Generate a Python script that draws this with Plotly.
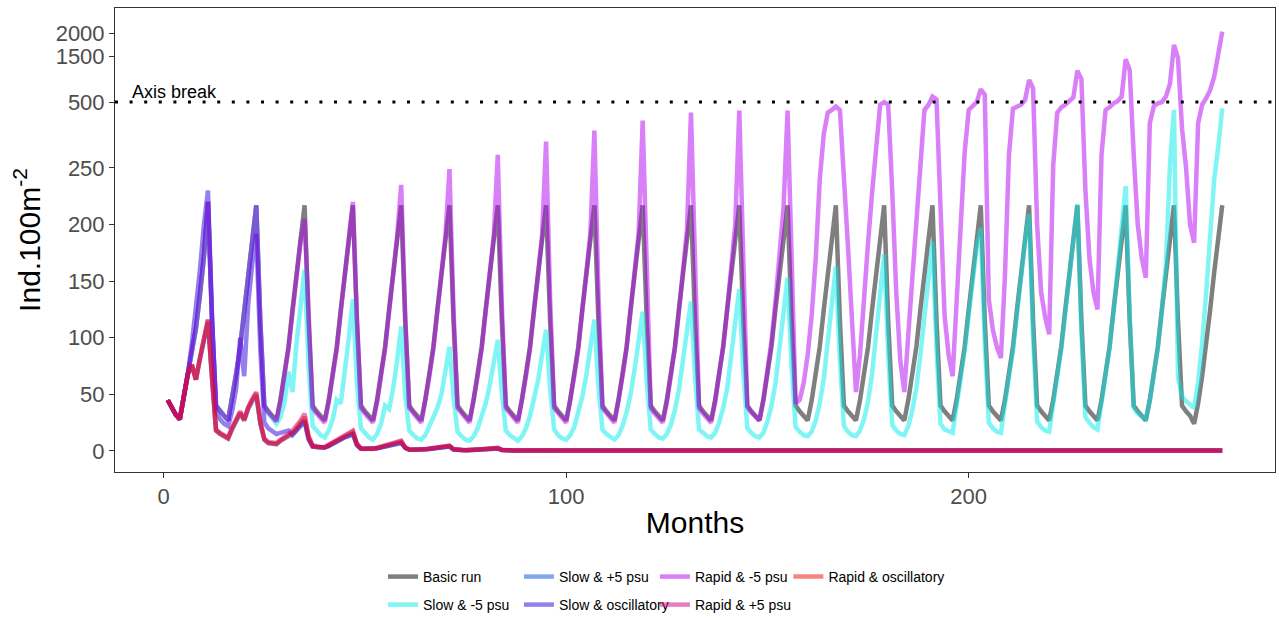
import plotly.graph_objects as go

months = list(range(1, 264))

basic_run = [
    45, 38, 32, 28, 48, 68, 88, 108, 138, 172, 220,
    115, 40, 35, 31, 27, 45, 68, 92, 125, 158, 190, 217,
    115, 40, 35, 31, 27, 45, 68, 92, 125, 158, 190, 217,
    115, 40, 35, 31, 27, 45, 68, 92, 125, 158, 190, 217,
    115, 40, 35, 31, 27, 45, 68, 92, 125, 158, 190, 217,
    115, 40, 35, 31, 27, 45, 68, 92, 125, 158, 190, 217,
    115, 40, 35, 31, 27, 45, 68, 92, 125, 158, 190, 217,
    115, 40, 35, 31, 27, 45, 68, 92, 125, 158, 190, 217,
    115, 40, 35, 31, 27, 45, 68, 92, 125, 158, 190, 217,
    115, 40, 35, 31, 27, 45, 68, 92, 125, 158, 190, 217,
    115, 40, 35, 31, 27, 45, 68, 92, 125, 158, 190, 217,
    115, 40, 35, 31, 27, 45, 68, 92, 125, 158, 190, 217,
    115, 40, 35, 31, 27, 45, 68, 92, 125, 158, 190, 217,
    115, 40, 35, 31, 27, 45, 68, 92, 125, 158, 190, 217,
    115, 40, 35, 31, 27, 45, 68, 92, 125, 158, 190, 217,
    115, 40, 35, 31, 27, 45, 68, 92, 125, 158, 190, 217,
    115, 40, 35, 31, 27, 45, 68, 92, 125, 158, 190, 217,
    115, 40, 35, 31, 27, 45, 68, 92, 125, 158, 190, 217,
    115, 40, 35, 31, 27, 45, 68, 92, 125, 158, 190, 217,
    115, 40, 35, 31, 27, 45, 68, 92, 125, 158, 190, 217,
    115, 40, 35, 31, 27, 45, 68, 92, 125, 158, 190, 217,
    115, 40, 35, 31, 24, 42, 66, 92, 125, 158, 190, 217,
]

slow_minus5 = [
    45, 38, 32, 28, 48, 68, 88, 108, 138, 172, 220,
    115, 40, 35, 31, 27, 45, 68, 92, 125, 158, 190, 217,
    115, 40, 33, 28, 24, 30, 42, 70, 52, 95, 130, 160,
    75, 22, 18, 14, 12, 18, 28, 45, 42, 70, 100, 134,
    60, 20, 16, 12, 10, 15, 24, 40, 37, 55, 80, 110,
    50, 18, 14, 11, 10, 14, 22, 30, 38, 50, 70, 92,
    48, 17, 13, 10, 9, 13, 20, 30, 42, 58, 78, 98,
    52, 18, 14, 11, 9, 13, 20, 31, 45, 62, 85, 107,
    55, 19, 14, 11, 10, 14, 21, 33, 48, 67, 92, 116,
    58, 19, 15, 12, 10, 14, 22, 34, 50, 72, 98, 123,
    62, 19, 15, 12, 11, 15, 23, 36, 54, 78, 105, 132,
    66, 19, 16, 13, 12, 16, 25, 38, 55, 85, 115, 143,
    70, 20, 16, 13, 12, 16, 26, 40, 60, 90, 122, 153,
    75, 21, 17, 14, 13, 17, 27, 42, 64, 96, 130, 163,
    80, 22, 17, 14, 13, 18, 28, 44, 68, 102, 138, 174,
    85, 23, 18, 15, 14, 22, 36, 56, 85, 120, 155, 185,
    90, 24, 19, 17, 16, 40, 64, 88, 120, 152, 180, 197,
    95, 25, 20, 17, 16, 41, 65, 89, 121, 154, 185, 209,
    100, 26, 21, 18, 17, 42, 65, 90, 122, 155, 188, 218,
    105, 30, 25, 21, 19, 42, 66, 91, 124, 158, 195, 234,
    120, 38, 33, 30, 28, 45, 68, 92, 125, 165, 260, 470,
    65, 48, 44, 41, 38, 60, 95, 140, 190, 240, 330, 476,
]

slow_plus5 = [
    45, 38, 32, 28, 48, 68, 76, 63, 81, 99, 114,
    64, 18, 15, 13, 11, 19, 27, 33, 27, 37, 44, 49,
    24, 10, 7, 6, 6, 9, 11, 13, 15, 19, 23, 27,
    11, 4, 3.5, 3, 3, 4.5, 6.5, 8.5, 10, 12, 14, 15,
    5.5, 2, 2, 1.8, 1.8, 2.4, 3.2, 4.2, 5, 6, 7, 7.5,
    2.8, 1.2, 1.1, 1, 1, 1.4, 1.8, 2.3, 2.8, 3.2, 3.6, 4,
    1.4, 0.8, 0.8, 0.7, 0.7, 0.9, 1.1, 1.4, 1.6, 1.8, 2, 2.2,
    0.9, 0.5, 0.5, 0.5, 0.5, 0.6, 0.7, 0.8, 0.9, 1.0, 1.0, 1.1,
    0.6, 0.4, 0.4, 0.4, 0.4, 0.4, 0.5, 0.5, 0.6, 0.6, 0.7, 0.7,
    0.5, 0.4, 0.4, 0.4, 0.4, 0.4, 0.4, 0.5, 0.5, 0.5, 0.5, 0.6,
    0.5, 0.4, 0.4, 0.4, 0.4, 0.4, 0.4, 0.4, 0.5, 0.5, 0.5, 0.5,
    0.5, 0.4, 0.4, 0.4, 0.4, 0.4, 0.4, 0.4, 0.5, 0.5, 0.5, 0.5,
    0.5, 0.4, 0.4, 0.4, 0.4, 0.4, 0.4, 0.4, 0.5, 0.5, 0.5, 0.5,
    0.5, 0.4, 0.4, 0.4, 0.4, 0.4, 0.4, 0.4, 0.5, 0.5, 0.5, 0.5,
    0.5, 0.4, 0.4, 0.4, 0.4, 0.4, 0.4, 0.4, 0.5, 0.5, 0.5, 0.5,
    0.5, 0.4, 0.4, 0.4, 0.4, 0.4, 0.4, 0.4, 0.5, 0.5, 0.5, 0.5,
    0.5, 0.4, 0.4, 0.4, 0.4, 0.4, 0.4, 0.4, 0.5, 0.5, 0.5, 0.5,
    0.5, 0.4, 0.4, 0.4, 0.4, 0.4, 0.4, 0.4, 0.5, 0.5, 0.5, 0.5,
    0.5, 0.4, 0.4, 0.4, 0.4, 0.4, 0.4, 0.4, 0.5, 0.5, 0.5, 0.5,
    0.5, 0.4, 0.4, 0.4, 0.4, 0.4, 0.4, 0.4, 0.5, 0.5, 0.5, 0.5,
    0.5, 0.4, 0.4, 0.4, 0.4, 0.4, 0.4, 0.4, 0.5, 0.5, 0.5, 0.5,
    0.5, 0.4, 0.4, 0.4, 0.4, 0.4, 0.4, 0.4, 0.5, 0.5, 0.5, 0.5,
]

slow_oscillatory = [
    45, 38, 32, 28, 48, 68, 95, 125, 160, 200, 230,
    120, 35, 28, 24, 22, 35, 55, 100, 66, 130, 165, 192,
    90, 25, 20, 17, 15, 16, 17, 18, 14, 18, 22, 26,
    10, 4, 3.5, 3, 3, 4.5, 6.5, 8.5, 10, 12, 13, 15,
    5, 2, 1.8, 1.7, 1.7, 2.3, 3, 4, 5, 5.8, 6.5, 7,
    2.6, 1.1, 1, 1, 1, 1.3, 1.7, 2.1, 2.6, 3, 3.4, 3.8,
    1.3, 0.8, 0.7, 0.7, 0.7, 0.9, 1.1, 1.3, 1.5, 1.7, 1.9, 2.1,
    0.9, 0.5, 0.5, 0.5, 0.5, 0.6, 0.7, 0.8, 0.9, 0.9, 1.0, 1.0,
    0.6, 0.4, 0.4, 0.4, 0.4, 0.4, 0.5, 0.5, 0.6, 0.6, 0.6, 0.7,
    0.5, 0.4, 0.4, 0.4, 0.4, 0.4, 0.4, 0.5, 0.5, 0.5, 0.5, 0.6,
    0.5, 0.4, 0.4, 0.4, 0.4, 0.4, 0.4, 0.4, 0.5, 0.5, 0.5, 0.5,
    0.5, 0.4, 0.4, 0.4, 0.4, 0.4, 0.4, 0.4, 0.5, 0.5, 0.5, 0.5,
    0.5, 0.4, 0.4, 0.4, 0.4, 0.4, 0.4, 0.4, 0.5, 0.5, 0.5, 0.5,
    0.5, 0.4, 0.4, 0.4, 0.4, 0.4, 0.4, 0.4, 0.5, 0.5, 0.5, 0.5,
    0.5, 0.4, 0.4, 0.4, 0.4, 0.4, 0.4, 0.4, 0.5, 0.5, 0.5, 0.5,
    0.5, 0.4, 0.4, 0.4, 0.4, 0.4, 0.4, 0.4, 0.5, 0.5, 0.5, 0.5,
    0.5, 0.4, 0.4, 0.4, 0.4, 0.4, 0.4, 0.4, 0.5, 0.5, 0.5, 0.5,
    0.5, 0.4, 0.4, 0.4, 0.4, 0.4, 0.4, 0.4, 0.5, 0.5, 0.5, 0.5,
    0.5, 0.4, 0.4, 0.4, 0.4, 0.4, 0.4, 0.4, 0.5, 0.5, 0.5, 0.5,
    0.5, 0.4, 0.4, 0.4, 0.4, 0.4, 0.4, 0.4, 0.5, 0.5, 0.5, 0.5,
    0.5, 0.4, 0.4, 0.4, 0.4, 0.4, 0.4, 0.4, 0.5, 0.5, 0.5, 0.5,
    0.5, 0.4, 0.4, 0.4, 0.4, 0.4, 0.4, 0.4, 0.5, 0.5, 0.5, 0.5,
]

rapid_minus5 = [
    45, 38, 32, 28, 48, 68, 88, 108, 138, 172, 220,
    115, 40, 35, 31, 27, 45, 68, 92, 125, 158, 190, 217,
    115, 40, 34, 30, 26, 44, 66, 90, 122, 155, 185, 205,
    110, 38, 33, 29, 25, 43, 66, 90, 123, 157, 190, 220,
    118, 38, 33, 29, 25, 43, 66, 90, 123, 157, 190, 235,
    120, 38, 33, 29, 25, 43, 66, 90, 123, 157, 190, 249,
    125, 38, 33, 29, 25, 43, 66, 90, 123, 157, 190, 300,
    130, 38, 33, 29, 25, 43, 66, 90, 123, 157, 190, 350,
    135, 38, 33, 29, 25, 43, 66, 90, 123, 157, 192, 392,
    140, 38, 33, 29, 25, 43, 66, 90, 123, 157, 193, 430,
    145, 38, 33, 29, 25, 43, 66, 90, 123, 158, 195, 460,
    150, 38, 33, 29, 25, 43, 66, 92, 125, 160, 200, 468,
    155, 39, 34, 30, 27, 46, 70, 97, 132, 170, 215, 468,
    160, 42, 45, 60, 85, 120, 170, 240, 380, 460, 470, 483,
    470, 248, 181, 116, 52, 85, 140, 184, 228, 345, 490, 500,
    490, 230, 140, 80, 52, 103, 153, 202, 262, 470, 489, 620,
    560, 200, 120, 85, 66, 132, 198, 309, 470, 485, 500, 781,
    658, 134, 107, 92, 82, 154, 300, 475, 485, 490, 545, 984,
    800, 200, 140, 118, 103, 260, 460, 480, 490, 530, 600, 1186,
    1000, 230, 170, 140, 125, 300, 470, 480, 495, 520, 620, 1433,
    1200, 300, 200, 170, 153, 420, 485, 495, 500, 620, 900, 1745,
    1456, 400, 250, 200, 184, 420, 490, 584, 766, 1055, 1490, 2036,
]

rapid_plus5 = [
    45, 38, 32, 28, 48, 68, 76, 63, 82, 100, 116,
    66, 19, 16, 14, 12, 21, 29, 35, 28, 39, 46, 52,
    26, 11, 8, 7, 7, 10, 12, 15, 18, 22, 27, 33,
    13, 5, 4, 3.5, 3.5, 5.5, 7.5, 10, 12, 14, 16, 18,
    6.5, 2.4, 2.2, 2, 2, 2.8, 3.8, 4.8, 6, 7, 8, 9,
    3.2, 1.3, 1.2, 1.1, 1.1, 1.6, 2.1, 2.6, 3.2, 3.7, 4.2, 4.8,
    1.6, 0.9, 0.8, 0.8, 0.8, 1.1, 1.3, 1.6, 1.9, 2.1, 2.4, 2.7,
    1.0, 0.6, 0.5, 0.5, 0.5, 0.6, 0.7, 0.8, 0.9, 1.0, 1.1, 1.3,
    0.7, 0.4, 0.4, 0.4, 0.4, 0.5, 0.5, 0.6, 0.6, 0.7, 0.7, 0.8,
    0.5, 0.4, 0.4, 0.4, 0.4, 0.4, 0.4, 0.5, 0.5, 0.5, 0.6, 0.6,
    0.5, 0.4, 0.4, 0.4, 0.4, 0.4, 0.4, 0.4, 0.5, 0.5, 0.5, 0.5,
    0.5, 0.4, 0.4, 0.4, 0.4, 0.4, 0.4, 0.4, 0.5, 0.5, 0.5, 0.5,
    0.5, 0.4, 0.4, 0.4, 0.4, 0.4, 0.4, 0.4, 0.5, 0.5, 0.5, 0.5,
    0.5, 0.4, 0.4, 0.4, 0.4, 0.4, 0.4, 0.4, 0.5, 0.5, 0.5, 0.5,
    0.5, 0.4, 0.4, 0.4, 0.4, 0.4, 0.4, 0.4, 0.5, 0.5, 0.5, 0.5,
    0.5, 0.4, 0.4, 0.4, 0.4, 0.4, 0.4, 0.4, 0.5, 0.5, 0.5, 0.5,
    0.5, 0.4, 0.4, 0.4, 0.4, 0.4, 0.4, 0.4, 0.5, 0.5, 0.5, 0.5,
    0.5, 0.4, 0.4, 0.4, 0.4, 0.4, 0.4, 0.4, 0.5, 0.5, 0.5, 0.5,
    0.5, 0.4, 0.4, 0.4, 0.4, 0.4, 0.4, 0.4, 0.5, 0.5, 0.5, 0.5,
    0.5, 0.4, 0.4, 0.4, 0.4, 0.4, 0.4, 0.4, 0.5, 0.5, 0.5, 0.5,
    0.5, 0.4, 0.4, 0.4, 0.4, 0.4, 0.4, 0.4, 0.5, 0.5, 0.5, 0.5,
    0.5, 0.4, 0.4, 0.4, 0.4, 0.4, 0.4, 0.4, 0.5, 0.5, 0.5, 0.5,
]

rapid_oscillatory = [
    45, 38, 32, 28, 48, 68, 76, 63, 82, 100, 116,
    65, 18, 15, 13, 11, 20, 28, 34, 27, 38, 45, 51,
    25, 10, 7, 6, 6, 9, 11, 14, 16, 20, 25, 30,
    12, 4, 3.5, 3, 3, 5, 7, 9, 11, 13, 15, 17,
    6, 2, 2, 1.8, 1.8, 2.5, 3.5, 4.5, 5.5, 6.5, 7.5, 8.5,
    3, 1.2, 1.1, 1, 1, 1.5, 2, 2.5, 3, 3.5, 4, 4.5,
    1.5, 0.8, 0.8, 0.7, 0.7, 1, 1.2, 1.5, 1.8, 2, 2.2, 2.5,
    0.9, 0.5, 0.5, 0.5, 0.5, 0.6, 0.7, 0.8, 0.9, 1.0, 1.1, 1.2,
    0.6, 0.4, 0.4, 0.4, 0.4, 0.5, 0.5, 0.6, 0.6, 0.7, 0.7, 0.8,
    0.5, 0.4, 0.4, 0.4, 0.4, 0.4, 0.4, 0.5, 0.5, 0.5, 0.6, 0.6,
    0.5, 0.4, 0.4, 0.4, 0.4, 0.4, 0.4, 0.4, 0.5, 0.5, 0.5, 0.5,
    0.5, 0.4, 0.4, 0.4, 0.4, 0.4, 0.4, 0.4, 0.5, 0.5, 0.5, 0.5,
    0.5, 0.4, 0.4, 0.4, 0.4, 0.4, 0.4, 0.4, 0.5, 0.5, 0.5, 0.5,
    0.5, 0.4, 0.4, 0.4, 0.4, 0.4, 0.4, 0.4, 0.5, 0.5, 0.5, 0.5,
    0.5, 0.4, 0.4, 0.4, 0.4, 0.4, 0.4, 0.4, 0.5, 0.5, 0.5, 0.5,
    0.5, 0.4, 0.4, 0.4, 0.4, 0.4, 0.4, 0.4, 0.5, 0.5, 0.5, 0.5,
    0.5, 0.4, 0.4, 0.4, 0.4, 0.4, 0.4, 0.4, 0.5, 0.5, 0.5, 0.5,
    0.5, 0.4, 0.4, 0.4, 0.4, 0.4, 0.4, 0.4, 0.5, 0.5, 0.5, 0.5,
    0.5, 0.4, 0.4, 0.4, 0.4, 0.4, 0.4, 0.4, 0.5, 0.5, 0.5, 0.5,
    0.5, 0.4, 0.4, 0.4, 0.4, 0.4, 0.4, 0.4, 0.5, 0.5, 0.5, 0.5,
    0.5, 0.4, 0.4, 0.4, 0.4, 0.4, 0.4, 0.4, 0.5, 0.5, 0.5, 0.5,
    0.5, 0.4, 0.4, 0.4, 0.4, 0.4, 0.4, 0.4, 0.5, 0.5, 0.5, 0.5,
]

y_tick_values = [0, 50, 100, 150, 200, 250, 500, 1500, 2000]
y_tick_labels = ["0", "50", "100", "150", "200", "250", "500", "1500", "2000"]
x_tick_values = [0, 100, 200]
break_value = 500


def ybreak(v):
    # broken y scale: linear to 250, compressed 250-500, strongly compressed above 500
    if v <= 250:
        return v
    if v <= 500:
        return 250 + (v - 250) * 0.2328
    return 308.2 + (v - 500) * 0.0405


series = [
    ("Basic run", basic_run, "rgba(0,0,0,0.5)", "legend"),
    ("Slow & -5 psu", slow_minus5, "rgba(0,235,235,0.5)", "legend2"),
    ("Slow & +5 psu", slow_plus5, "rgba(0,80,225,0.5)", "legend"),
    ("Slow & oscillatory", slow_oscillatory, "rgba(40,0,220,0.5)", "legend2"),
    ("Rapid & -5 psu", rapid_minus5, "rgba(180,0,240,0.5)", "legend"),
    ("Rapid & +5 psu", rapid_plus5, "rgba(209,0,129,0.5)", "legend2"),
    ("Rapid & oscillatory", rapid_oscillatory, "rgba(240,10,10,0.5)", "legend3"),
]

fig = go.Figure()
for name, vals, color, lg in series:
    fig.add_trace(go.Scatter(
        x=months, y=[ybreak(v) for v in vals], mode="lines", name=name,
        line=dict(color=color, width=4.5), legend=lg,
        customdata=vals, hovertemplate="%{x}: %{customdata}<extra>" + name + "</extra>",
    ))

font_family = "Liberation Sans, Arial, sans-serif"

fig.add_shape(type="line", xref="paper", x0=0, x1=1, yref="y",
              y0=ybreak(break_value), y1=ybreak(break_value),
              line=dict(color="black", width=3, dash="3px,11.6px"))
fig.add_annotation(x=-8.4, y=ybreak(break_value), xref="x", yref="y",
                   text="Axis break", showarrow=False, xanchor="left", yanchor="bottom",
                   yshift=-2, font=dict(size=18, color="black", family=font_family))

legend_common = dict(orientation="h", xanchor="left", yanchor="top", yref="container",
                     itemwidth=30,
                     font=dict(size=14, color="black", family=font_family),
                     bgcolor="rgba(0,0,0,0)", tracegroupgap=0)

fig.update_layout(
    width=1279, height=620,
    margin=dict(l=115, r=4, t=8, b=148, autoexpand=False),
    paper_bgcolor="white", plot_bgcolor="white",
    font=dict(family=font_family),
    showlegend=True,
    legend=dict(x=0.231, y=0.0952, entrywidth=91, entrywidthmode="pixels", **legend_common),
    legend2=dict(x=0.231, y=0.050, entrywidth=91, entrywidthmode="pixels", **legend_common),
    legend3=dict(x=0.5805, y=0.0952, **legend_common),
    xaxis=dict(
        range=[-12.1, 276.1], tickvals=x_tick_values, ticks="outside", ticklen=5,
        tickcolor="#333333", tickfont=dict(size=22, color="#4d4d4d"),
        showgrid=False, zeroline=False, showline=True, mirror=True,
        linecolor="#333333", linewidth=1, automargin=False,
        title=dict(text="Months", font=dict(size=30, color="black"), standoff=3),
    ),
    yaxis=dict(
        range=[-18.6, 391.3], tickvals=[ybreak(v) for v in y_tick_values],
        ticktext=y_tick_labels, ticks="outside", ticklen=5,
        tickcolor="#333333", tickfont=dict(size=22, color="#4d4d4d"),
        showgrid=False, zeroline=False, showline=True, mirror=True,
        linecolor="#333333", linewidth=1, automargin=False,
        title=dict(text="Ind.100m<sup>-2</sup>", font=dict(size=30, color="black"), standoff=6),
    ),
)

fig.write_html("out.html")
